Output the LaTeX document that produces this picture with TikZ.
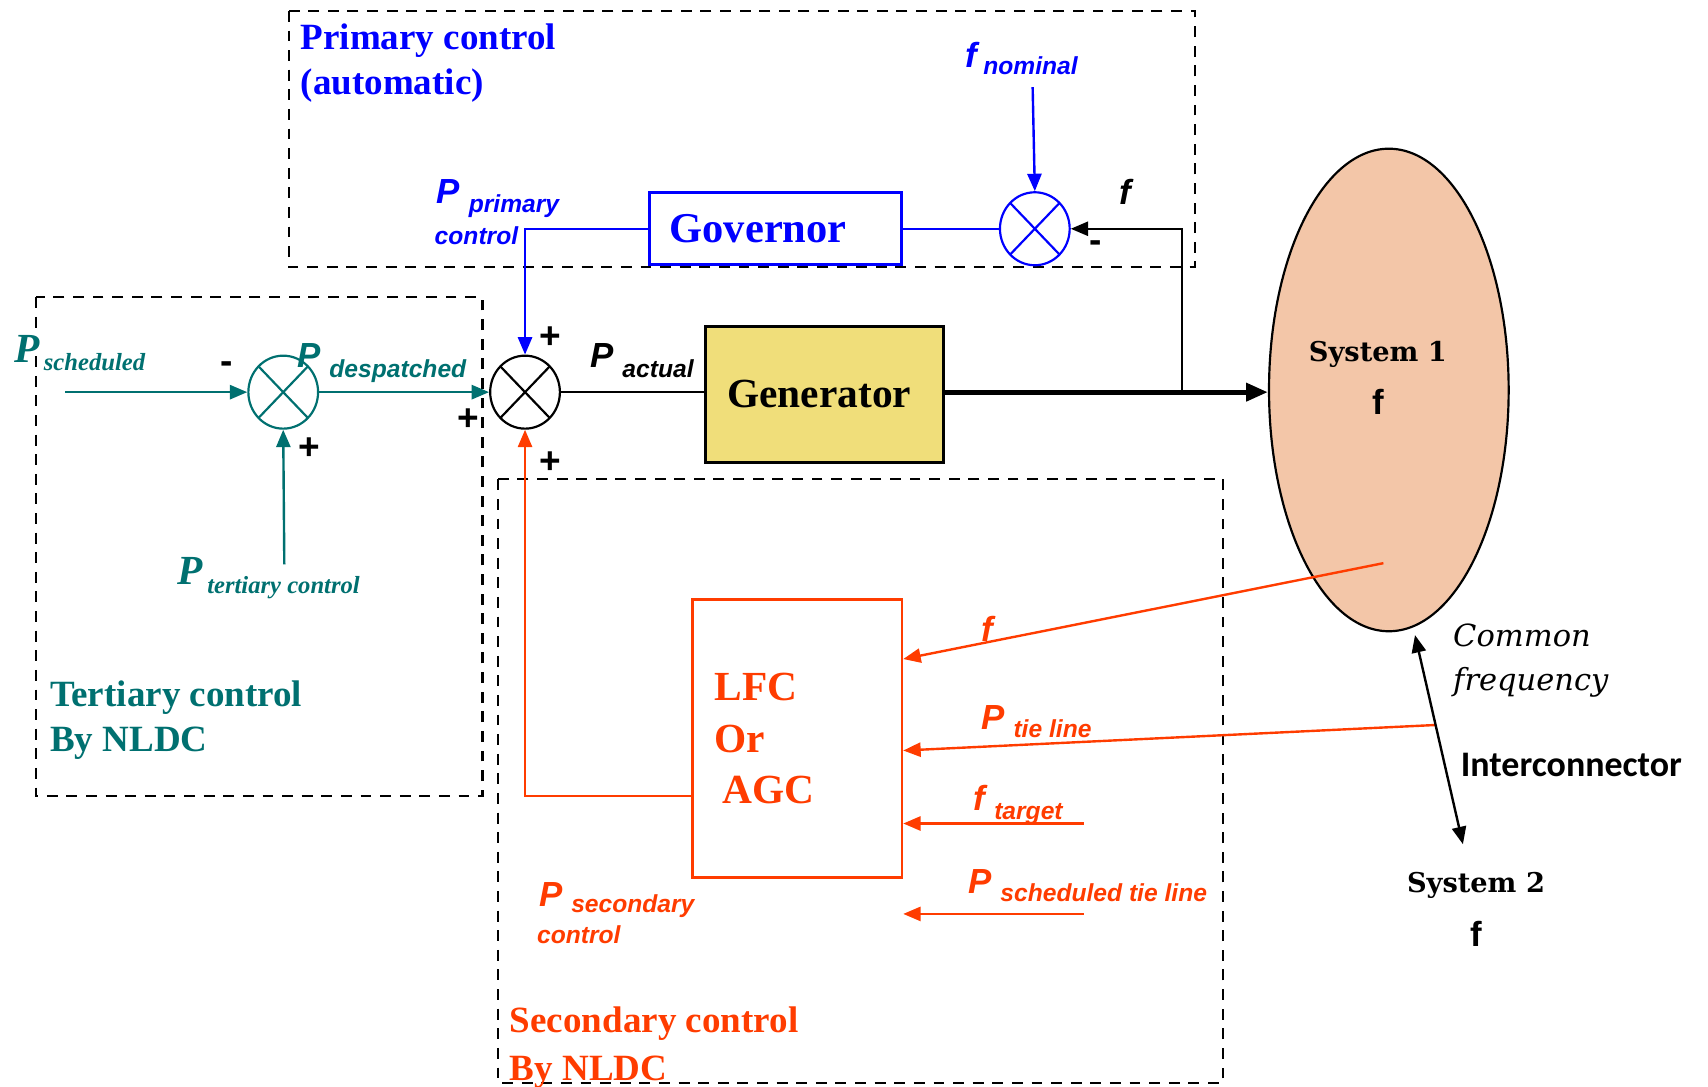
\documentclass[tikz,border=0pt]{standalone}
\usepackage{fontspec}
\setmainfont{Liberation Serif}
\setsansfont{Liberation Sans}
\newfontfamily\sysfont{DejaVu Serif}
\newfontfamily\calfont{Carlito}
\usetikzlibrary{arrows.meta,shapes.geometric,positioning,calc}
\definecolor{primblue}{RGB}{0,0,255}
\definecolor{terteal}{RGB}{0,112,112}
\definecolor{secred}{RGB}{255,60,0}
\definecolor{genyellow}{RGB}{240,222,122}
\definecolor{syspeach}{RGB}{243,198,168}
\newcommand{\lowsub}[2][4pt]{\raisebox{-#1}{\fontsize{11.3}{13}\selectfont #2}}
\newcommand{\sysf}{{\sffamily\bfseries\fontsize{16}{16}\selectfont f}}
\tikzset{
  groupbox/.style={draw, line width=1pt, dash pattern=on 5pt off 4pt},
  sumnode/.style={ellipse, draw=#1, line width=1pt, minimum width=32pt, minimum height=33.5pt, inner sep=0pt,
    path picture={\draw[#1, line width=1pt]
      ([shift={(-11.3pt,11.8pt)}]path picture bounding box.center) -- ([shift={(11.3pt,-11.8pt)}]path picture bounding box.center)
      ([shift={(11.3pt,11.8pt)}]path picture bounding box.center) -- ([shift={(-11.3pt,-11.8pt)}]path picture bounding box.center);}},
  block/.style={draw=#1, line width=1.3pt, inner sep=0pt},
  title/.style={font=\fontsize{17}{20.5}\selectfont\bfseries, align=left, anchor=north west, inner sep=0pt},
  sig/.style={font=\fontsize{16}{18}\selectfont\sffamily\bfseries\itshape, anchor=base west, inner sep=0pt},
  tsig/.style={font=\fontsize{19}{22}\selectfont\bfseries\itshape, anchor=base west, inner sep=0pt},
  pm/.style={font=\fontsize{17}{17}\selectfont\sffamily\bfseries, inner sep=0pt}
}
\begin{document}
\begin{tikzpicture}[x=0.5pt,y=-0.5pt,>={Triangle[length=8pt,width=6.5pt]},line width=1.1pt]
\useasboundingbox (0,0) rectangle (1568,997);
% control areas
\draw[groupbox] (265,10) rectangle (1097,245);
\draw[groupbox] (33,273) rectangle (443,731);
\draw[groupbox] (457,440) rectangle (1123,994);

% primary control
\node[title, text=primblue] (primtitle) at (275,21) {Primary control\\(automatic)};
\node[block=primblue, minimum width=115.5pt, minimum height=33pt, font=\fontsize{19.5}{19.5}\selectfont\bfseries, text=primblue] (governor) at (712,210) {Governor\hspace*{16pt}};
\node[sumnode=primblue] (sum3) at (950,210) {};
\coordinate (fnom) at (948,80);
\node[sig, text=primblue] (fnomlbl) at (885,62) {f\hspace{3pt}\lowsub[3pt]{nominal}};
\node[sig] (flbl) at (1027,188) {f};
\node[pm] (minus3) at (1006,226) {-};
\node[sig, text=primblue] (pprimlbl) at (400,187) {P\hspace{4pt}\lowsub{primary}};
\node[sig, text=primblue] (pprimlblb) at (398,224) {\fontsize{11.3}{13}\selectfont control};

% tertiary control
\node[title, text=terteal] (tertitle) at (45,624) {Tertiary control\\By NLDC};
\node[sumnode=terteal] (sum1) at (260,360) {};
\coordinate (psch) at (60,360);
\coordinate (pter) at (261,518);
\node[tsig, text=terteal] (pschlbl) at (12,333) {P\hspace{2pt}\lowsub[3.5pt]{scheduled}};
\node[tsig, text=terteal] (pterlbl) at (162,537) {P\hspace{2pt}\lowsub{tertiary control}};
\node[sig, text=terteal] (pdeslbl) at (272,337) {P\hspace{4pt}\lowsub[5pt]{despatched}};
\node[pm] (minus1) at (208,337) {-};
\node[pm] (plus1) at (284,412) {+};

% generator and system
\node[sumnode=black] (sum2) at (482,360) {};
\node[block=black, fill=genyellow, minimum width=109pt, minimum height=62.5pt, font=\fontsize{19}{19}\selectfont\bfseries] (gen) at (757,362) {Generator\hspace*{5pt}};
\node[sig] (pactlbl) at (541,337) {P\hspace{4pt}\lowsub[5pt]{actual}};
\node[pm] (plus2a) at (505,310) {+};
\node[pm] (plus2b) at (430,385) {+};
\node[pm] (plus2c) at (505,425) {+};
\node[ellipse, draw, line width=1pt, fill=syspeach, minimum width=110pt, minimum height=221.5pt] (sys1) at (1275,358) {};
\node[font=\sysfont\bfseries\fontsize{12.5}{24}\selectfont, align=center] (sys1lbl) at (1265,347) {System 1\\\sysf};
\coordinate (tap) at (1085,360);

% secondary control
\node[title, font=\fontsize{17}{22}\selectfont\bfseries, text=secred] (sectitle) at (467,923) {Secondary control\\By NLDC};
\node[block=secred, line width=1.2pt, minimum width=96pt, minimum height=127.5pt, text width=76pt, align=left,
  font=\fontsize{19}{23.5}\selectfont\bfseries, text=secred] (lfc) at (732,678) {LFC\\Or\\\hspace*{3.5pt}AGC};
\coordinate (fpick) at (1270,517);
\coordinate (ftgt) at (995,756);
\coordinate (ptsch) at (995,839);
\node[sig, text=secred] (flfclbl) at (900,589) {f};
\node[sig, text=secred] (ptielbl) at (900,670) {P\hspace{4pt}\lowsub[3.5pt]{tie line}};
\node[sig, text=secred] (ftgtlbl) at (893,744) {f\hspace{4pt}\lowsub{target}};
\node[sig, text=secred] (ptschlbl) at (888,820) {P\hspace{4pt}\lowsub{scheduled tie line}};
\node[sig, text=secred] (pseclbl) at (494,832) {P\hspace{4pt}\lowsub[3pt]{secondary}};
\node[sig, text=secred] (pseclblb) at (492,866) {\fontsize{11.3}{13}\selectfont control};

% interconnection
\coordinate (ic1) at (1299,583);
\coordinate (ic2) at (1343,775);
\node[font=\sysfont\itshape\fontsize{14}{20}\selectfont, align=left, anchor=north west, inner sep=0pt] (commonlbl) at (1333,572) {Common\\frequency};
\node[font=\calfont\bfseries\fontsize{16.5}{16.5}\selectfont, anchor=base west, inner sep=0pt] (iclbl) at (1340,713) {Interconnector};
\node[font=\sysfont\bfseries\fontsize{12.5}{25}\selectfont, align=center] (sys2) at (1355,835) {System 2\\\sysf};

% signals
\draw[->, terteal] (psch) -- (sum1.west);
\draw[->, terteal] (pter) -- (sum1.south);
\draw[->, terteal] (sum1.east) -- (sum2.west);
\draw (sum2.east) -- (sum2.east -| gen.west);
\draw[-{Triangle[length=10pt,width=8pt]}, line width=2.4pt] (gen.east |- sum2.east) -- (sys1.west |- sum2.east);
\draw[->] (tap) |- (sum3.east);
\draw[->, primblue] (fnom) -- (sum3.north);
\draw[primblue] (sum3.west) -- (governor.east);
\draw[->, primblue] (governor.west) -| (sum2.north);
\draw[->, secred] (fpick) -- ([yshift=36.5pt]lfc.east);
\draw[->, secred] ($(ic1)!0.43!(ic2)$) -- ([yshift=-5.5pt]lfc.east);
\draw[->, secred] (ftgt) -- ([yshift=-39pt]lfc.east);
\draw[->, secred] (ptsch) -- ([yshift=-80.5pt]lfc.east);
\draw[->, secred] ([yshift=-26.5pt]lfc.west) -| (sum2.south);
\draw[<->] (ic1) -- (ic2);
\end{tikzpicture}
\end{document}
